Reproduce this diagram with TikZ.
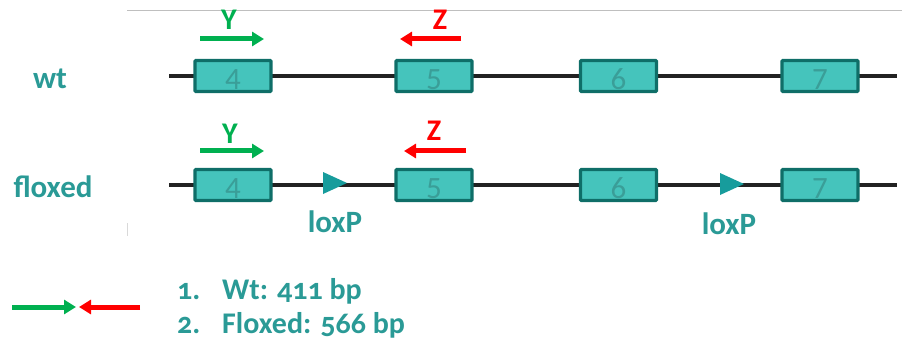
\documentclass[tikz,border=0pt]{standalone}
\usepackage{fontspec}
\setmainfont{Carlito}[Numbers=OldStyle]
\usetikzlibrary{arrows.meta}
\definecolor{exonfill}{HTML}{45C4BC}
\definecolor{exonedge}{HTML}{0F6E68}
\definecolor{exonnum}{HTML}{3A9E98}
\definecolor{labeltxt}{HTML}{2A9A96}
\definecolor{loxcol}{HTML}{179C9C}
\definecolor{fwdgreen}{HTML}{00B050}
\definecolor{revred}{HTML}{FF0000}
\definecolor{dnaline}{HTML}{222222}
\tikzset{
  x=1pt, y=-1pt,
  exon/.style={draw=exonedge, fill=exonfill, line width=3.2pt, rounded corners=1pt,
    minimum width=76pt, minimum height=31pt, inner sep=0pt,
    text height=27pt, text depth=0pt,
    font=\fontsize{31}{31}\selectfont\addfontfeatures{Numbers=Lining}, text=exonnum},
  backbone/.style={draw=dnaline, line width=3.6pt},
  primer/.style={line width=5pt, -{Triangle[length=12pt,width=14pt]}},
  plabel/.style={font=\bfseries\fontsize{30}{30}\selectfont},
  rowlabel/.style={font=\bfseries\fontsize{31}{31}\selectfont, text=labeltxt},
  loxlabel/.style={font=\bfseries\fontsize{31}{31}\selectfont, text=labeltxt},
  legend/.style={font=\bfseries\fontsize{30}{30}\selectfont, text=labeltxt, anchor=base west, inner sep=0pt},
  loxsite/.style={fill=loxcol},
}
\begin{document}
\begin{tikzpicture}
\useasboundingbox (0,0) rectangle (902,342);

% frame edge
\coordinate (frA) at (127,11);
\coordinate (frB) at (902,11);
\draw[gray!50, line width=1pt] (frA) -- (frB);
\coordinate (frC) at (127,223);
\coordinate (frD) at (127,236);
\draw[gray!30, line width=0.8pt] (frC) -- (frD);

% ---- wild-type allele ----
\node[rowlabel] (wt) at (50,79) {wt};
\coordinate (wtL) at (169,76);
\coordinate (wtR) at (897,76);
\draw[backbone] (wtL) -- (wtR);
\node[exon] (w4) at (233,76) {4};
\node[exon] (w5) at (434,76) {5};
\node[exon] (w6) at (618.5,76) {6};
\node[exon] (w7) at (820,76) {7};

\coordinate (wYa) at (200,39);
\coordinate (wYb) at (264,39);
\draw[primer, fwdgreen] (wYa) -- (wYb);
\node[plabel, text=fwdgreen] (wY) at (229,20) {Y};
\coordinate (wZa) at (461,39);
\coordinate (wZb) at (400,39);
\draw[primer, revred] (wZa) -- (wZb);
\node[plabel, text=revred] (wZ) at (440,20) {Z};

% ---- floxed allele ----
\node[rowlabel] (fl) at (53,187) {floxed};
\coordinate (flL) at (169,185);
\coordinate (flR) at (897,185);
\draw[backbone] (flL) -- (flR);
\node[exon] (f4) at (233,185) {4};
\node[exon] (f5) at (434,185) {5};
\node[exon] (f6) at (618.5,185) {6};
\node[exon] (f7) at (820,185) {7};

\coordinate (lox1) at (323,183);
\fill[loxsite] (lox1) ++(0,-11) -- ++(24,11) -- ++(-24,11) -- cycle;
\node[loxlabel] (lx1) at (335,222) {loxP};
\coordinate (lox2) at (720,184);
\fill[loxsite] (lox2) ++(0,-11) -- ++(24,11) -- ++(-24,11) -- cycle;
\node[loxlabel] (lx2) at (729,224) {loxP};

\coordinate (fYa) at (200,151);
\coordinate (fYb) at (264,151);
\draw[primer, fwdgreen] (fYa) -- (fYb);
\node[plabel, text=fwdgreen] (fY) at (230,134) {Y};
\coordinate (fZa) at (466,151);
\coordinate (fZb) at (404,151);
\draw[primer, revred] (fZa) -- (fZb);
\node[plabel, text=revred] (fZ) at (434,131) {Z};

% ---- legend ----
\coordinate (gA) at (12,307);
\coordinate (gB) at (76,307);
\draw[primer, fwdgreen] (gA) -- (gB);
\coordinate (rA) at (140,307);
\coordinate (rB) at (79,307);
\draw[primer, revred] (rA) -- (rB);

\node[legend] (n1) at (177,299) {1.};
\node[legend] (t1) at (222,299) {Wt: 411 bp};
\node[legend] (n2) at (177,333) {2.};
\node[legend] (t2) at (222,333) {Floxed: 566 bp};
\end{tikzpicture}
\end{document}
